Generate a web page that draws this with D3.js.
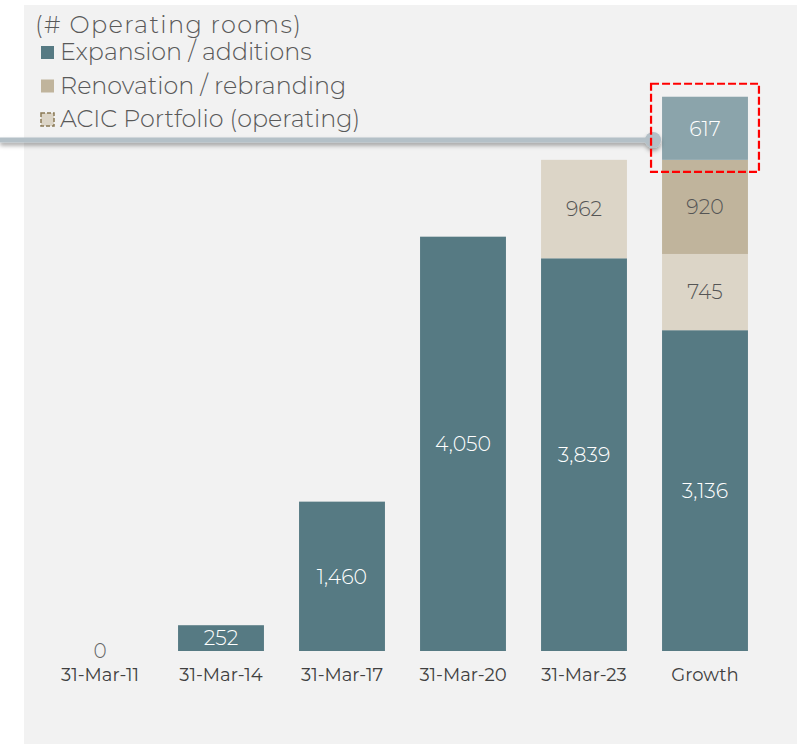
<!DOCTYPE html>
<html lang="en">
<head>
<meta charset="UTF-8">
<title>Operating rooms</title>
<style>
  body { margin: 0; background: #fff; }
  svg text { font-family: Montserrat, Lato, "Open Sans", sans-serif; font-weight: 300; }
</style>
</head>
<body>
<svg id="chart" width="810" height="744"></svg>
<script src="https://cdnjs.cloudflare.com/ajax/libs/d3/7.8.5/d3.min.js"></script>
<script>
// data
const categories = ['31-Mar-11', '31-Mar-14', '31-Mar-17', '31-Mar-20', '31-Mar-23', 'Growth'];
const expansion  = [0, 252, 1460, 4050, 3839, 3136];
const acic       = [0, 0, 0, 0, 962, 745];
const renovation = [0, 0, 0, 0, 0, 920];
const pipeline   = [0, 0, 0, 0, 0, 617];

const legendLabels = ['Expansion / additions', 'Renovation / rebranding', 'ACIC Portfolio (operating)'];

const COLORS = {
  expansion: '#567a83',
  acic: '#dcd5c7',
  renovation: '#c0b49c',
  pipeline: '#8ba4ab'
};

const svg = d3.select('#chart');

// grey panel
svg.append('rect')
  .attr('x', 24).attr('y', 5)
  .attr('width', 773).attr('height', 739)
  .attr('fill', '#f2f2f2');

const x = d3.scaleBand()
  .domain(categories)
  .range([39.5, 765.5])
  .paddingInner(0.29)
  .paddingOuter(0.145);

const y = d3.scaleLinear()
  .domain([0, 6000])
  .range([651, 651 - 6000 * 0.1023]);

// stack order bottom -> top
const keys = ['expansion', 'acic', 'renovation', 'pipeline'];
const rows = categories.map((c, i) => ({
  cat: c,
  expansion: expansion[i],
  acic: acic[i],
  renovation: renovation[i],
  pipeline: pipeline[i]
}));
const series = d3.stack().keys(keys)(rows);

const layer = svg.selectAll('g.layer')
  .data(series)
  .enter()
  .append('g')
  .attr('class', 'layer')
  .attr('fill', d => COLORS[d.key]);

layer.selectAll('rect')
  .data(d => d.filter(s => s[1] - s[0] > 0))
  .enter()
  .append('rect')
  .attr('x', d => x(d.data.cat))
  .attr('width', x.bandwidth())
  .attr('y', d => y(d[1]))
  .attr('height', d => y(d[0]) - y(d[1]));

// value labels
const labelColor = { expansion: '#ffffff', pipeline: '#ffffff', acic: '#555555', renovation: '#555555' };
series.forEach(s => {
  s.forEach(d => {
    const v = d[1] - d[0];
    if (v <= 0) return;
    svg.append('text')
      .attr('x', x(d.data.cat) + x.bandwidth() / 2)
      .attr('y', (y(d[0]) + y(d[1])) / 2)
      .attr('dy', '0.36em')
      .attr('text-anchor', 'middle')
      .attr('font-size', 20.5)
      .attr('fill', labelColor[s.key])
      .text(d3.format(',')(v));
  });
});

// zero label for the first bar
svg.append('text')
  .attr('x', x(categories[0]) + x.bandwidth() / 2)
  .attr('y', 658)
  .attr('text-anchor', 'middle')
  .attr('font-size', 20)
  .attr('fill', '#666')
  .text('0');

// category axis
const xAxis = svg.append('g')
  .attr('transform', 'translate(0,651)')
  .call(d3.axisBottom(x).tickSize(0).tickPadding(17));
xAxis.select('.domain').remove();
xAxis.selectAll('text')
  .attr('font-size', 18)
  .attr('fill', '#404040')
  .style('font-family', 'Montserrat, Lato, "Open Sans", sans-serif')
  .style('font-weight', 400);

// connector line with shadow
const defs = svg.append('defs');
const f = defs.append('filter').attr('id', 'shadow')
  .attr('x', '-5%').attr('y', '-200%').attr('width', '110%').attr('height', '500%');
f.append('feDropShadow')
  .attr('dx', 0).attr('dy', 3).attr('stdDeviation', 2)
  .attr('flood-color', '#000').attr('flood-opacity', 0.35);

const lastX = x('Growth');
const g = svg.append('g').attr('filter', 'url(#shadow)');
g.append('line')
  .attr('x1', 0).attr('x2', lastX - 9)
  .attr('y1', 140).attr('y2', 140)
  .attr('stroke', '#b4c0c7').attr('stroke-width', 5);
g.append('circle')
  .attr('cx', lastX - 9).attr('cy', 140).attr('r', 8)
  .attr('fill', '#b4c0c7');

// red dashed highlight round the pipeline segment
const topSeg = series[3][5];
svg.append('rect')
  .attr('x', lastX - 11)
  .attr('y', y(topSeg[1]) - 13)
  .attr('width', x.bandwidth() + 22)
  .attr('height', y(topSeg[0]) - y(topSeg[1]) + 13 + 12)
  .attr('fill', 'none')
  .attr('stroke', '#ff0000')
  .attr('stroke-width', 2.2)
  .attr('stroke-dasharray', '8,3');

// legend
svg.append('text')
  .attr('x', 35).attr('y', 33)
  .attr('font-size', 24)
  .attr('textLength', 266)
  .attr('lengthAdjust', 'spacing')
  .attr('fill', '#595959')
  .text('(# Operating rooms)');

const legendFill = [COLORS.expansion, COLORS.renovation, COLORS.acic];
const legend = svg.selectAll('g.legend')
  .data(legendLabels)
  .enter()
  .append('g')
  .attr('class', 'legend')
  .attr('transform', (d, i) => 'translate(41,' + (46 + i * 33.5) + ')');

legend.append('rect')
  .attr('width', 13).attr('height', 13)
  .attr('fill', (d, i) => legendFill[i])
  .attr('stroke', (d, i) => i === 2 ? '#8a7a55' : 'none')
  .attr('stroke-width', 1.5)
  .attr('stroke-dasharray', '4,2');

legend.append('text')
  .attr('x', 19).attr('y', 14)
  .attr('font-size', 23.8)
  .attr('fill', '#595959')
  .text(d => d);
</script>
</body>
</html>
